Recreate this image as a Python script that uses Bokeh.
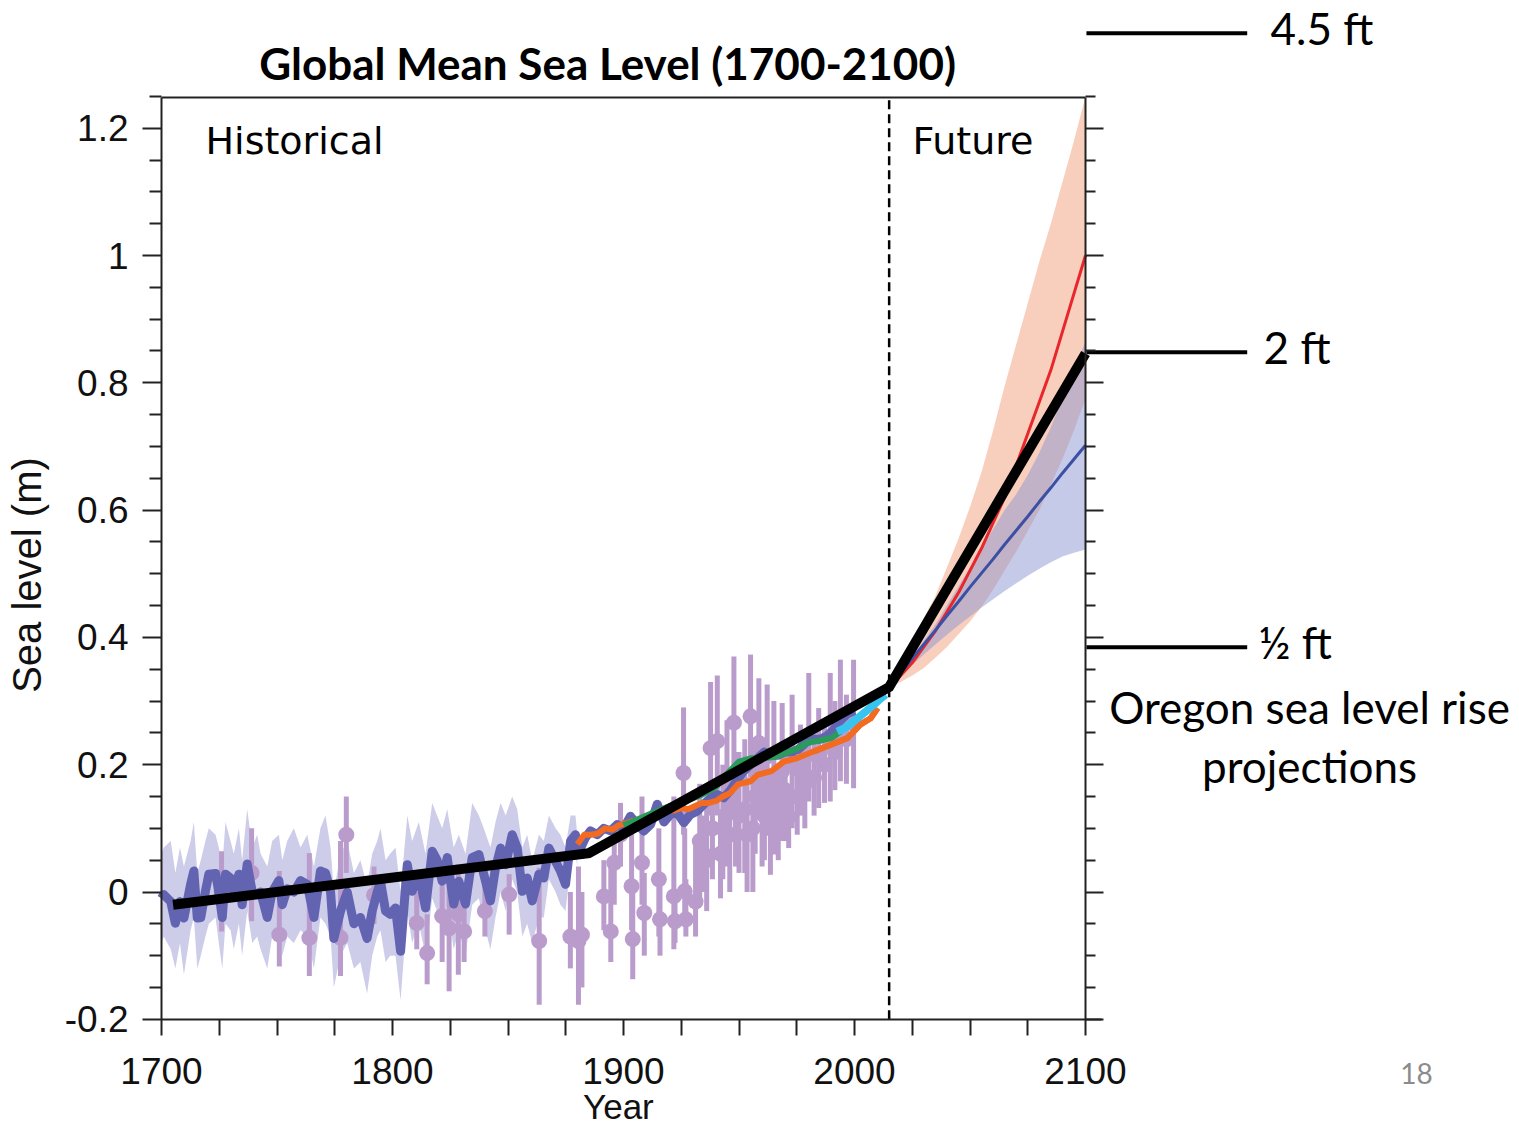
from bokeh.plotting import figure
from bokeh.models import Range1d, LinearAxis, FixedTicker
from bokeh.core.properties import value
from bokeh.embed import file_html
from bokeh.resources import INLINE

# ---------------- data ----------------
title_text = "Global Mean Sea Level (1700-2100)"

x_ticks = [1700, 1800, 1900, 2000, 2100]
x_tick_labels = ["1700", "1800", "1900", "2000", "2100"]
x_minor = [1725, 1750, 1775, 1825, 1850, 1875, 1925, 1950, 1975, 2025, 2050, 2075]
y_ticks = [-0.2, 0, 0.2, 0.4, 0.6, 0.8, 1, 1.2]
y_tick_labels = ["-0.2", "0", "0.2", "0.4", "0.6", "0.8", "1", "1.2"]
y_minor = [-0.15, -0.1, -0.05, 0.05, 0.1, 0.15, 0.25, 0.3, 0.35, 0.45, 0.5, 0.55,
           0.65, 0.7, 0.75, 0.85, 0.9, 0.95, 1.05, 1.1, 1.15, 1.25]

# historical reconstruction (dark blue-violet line)
blue_years = [1700, 1701, 1704, 1706, 1708, 1709.7, 1712.6, 1714, 1715.5, 1717,
              1719, 1720.5, 1723.4, 1724.8, 1726.3, 1727.7, 1729.9, 1731.3, 1733.5, 1734.9,
              1737.1, 1739.3, 1741.4, 1742.9, 1745.8, 1747.9, 1750.8, 1752.3, 1754.4, 1757.3,
              1760.2, 1763.1, 1766, 1768.8, 1771, 1773.2, 1774.6, 1777.5, 1780.4, 1783.3,
              1786.1, 1789, 1791.2, 1793.4, 1794.8, 1797, 1799, 1801.3, 1803.5, 1806.4,
              1808.5, 1811.4, 1814.3, 1817.2, 1819.3, 1821.5, 1823.7, 1826.5, 1828.7, 1831.6,
              1834.5, 1837.4, 1839.5, 1842.4, 1844.6, 1846.8, 1849, 1851.8, 1854, 1856.2,
              1858.3, 1860.5, 1863.4, 1865.5, 1867.7, 1870.6, 1872.7, 1874.9, 1877.1, 1879.2,
              1880,
              1881.4, 1883.5, 1885.7, 1888.6, 1891.5, 1894.4, 1897.3, 1900.1, 1903, 1905.9,
              1908.8, 1911.7, 1914.6, 1917.5, 1920.3, 1923.2, 1926.1, 1929, 1931.9, 1934.8,
              1937.7, 1940.6, 1943.4, 1946.3, 1949, 1952, 1955, 1958, 1961, 1964,
              1967, 1970, 1973, 1976, 1979, 1982, 1985, 1988, 1991, 1994,
              1997, 2000]
blue_vals = [-0.01, -0.004, -0.015, -0.049, -0.015, -0.041, 0.012, 0.033, -0.041, -0.04,
             0.001, 0.028, 0.029, 0.0, -0.04, 0.028, 0.022, -0.002, 0.028, -0.02,
             0.044, 0.0, -0.003, 0.0, -0.04, 0.0, 0.018, -0.02, 0.005, 0.0,
             0.018, 0.012, -0.04, 0.033, 0.03, 0.0, -0.073, -0.03, 0.0, -0.05,
             -0.04, -0.073, -0.03, 0.0, 0.017, -0.03, -0.035, -0.025, -0.093, 0.043,
             0.001, 0.028, -0.025, 0.064, 0.05, 0.017, 0.054, -0.019, 0.017, -0.019,
             0.054, 0.059, 0.028, -0.014, 0.038, 0.069, 0.043, 0.09, 0.069, 0.001,
             0.022, -0.014, 0.028, 0.022, 0.069, 0.048, 0.033, 0.012, 0.08, 0.09,
             0.062,
             0.069, 0.085, 0.096, 0.09, 0.1, 0.096, 0.106, 0.1, 0.119, 0.106,
             0.096, 0.106, 0.138, 0.11, 0.122, 0.125, 0.109, 0.122, 0.127, 0.138,
             0.148, 0.153, 0.148, 0.16, 0.175, 0.19, 0.2, 0.21, 0.22, 0.215,
             0.215, 0.22, 0.22, 0.225, 0.235, 0.24, 0.24, 0.245, 0.255, 0.27,
             0.28, 0.285]
# uncertainty band of the reconstruction (first 81 years above)
band_hi = [0.06, 0.07, 0.08, 0.03, 0.07, 0.04, 0.08, 0.11, 0.03, 0.05,
           0.08, 0.10, 0.09, 0.07, 0.04, 0.11, 0.08, 0.06, 0.10, 0.05,
           0.13, 0.07, 0.09, 0.06, 0.04, 0.08, 0.09, 0.05, 0.08, 0.10,
           0.07, 0.09, 0.04, 0.10, 0.12, 0.07, 0.00, 0.06, 0.08, 0.03,
           0.05, 0.01, 0.06, 0.08, 0.10, 0.05, 0.06, 0.07, 0.00, 0.12,
           0.08, 0.11, 0.06, 0.14, 0.12, 0.10, 0.13, 0.07, 0.09, 0.06,
           0.14, 0.12, 0.10, 0.07, 0.11, 0.14, 0.12, 0.15, 0.13, 0.07,
           0.09, 0.05, 0.09, 0.08, 0.12, 0.10, 0.09, 0.07, 0.12, 0.12,
           0.09]
band_lo = [-0.08, -0.07, -0.09, -0.12, -0.08, -0.13, -0.06, -0.04, -0.12, -0.10,
           -0.07, -0.05, -0.04, -0.08, -0.12, -0.05, -0.06, -0.09, -0.05, -0.10,
           -0.03, -0.08, -0.07, -0.09, -0.12, -0.07, -0.06, -0.10, -0.07, -0.08,
           -0.06, -0.07, -0.12, -0.04, -0.05, -0.07, -0.15, -0.10, -0.08, -0.12,
           -0.11, -0.16, -0.10, -0.07, -0.06, -0.11, -0.10, -0.10, -0.17, -0.03,
           -0.08, -0.05, -0.10, -0.01, -0.03, -0.06, -0.02, -0.09, -0.06, -0.10,
           -0.02, -0.01, -0.05, -0.09, -0.04, 0.00, -0.03, 0.02, 0.00, -0.07,
           -0.05, -0.08, -0.04, -0.04, 0.02, 0.00, -0.02, -0.03, 0.04, 0.06,
           0.04]

orange_years = [1880, 1883, 1886, 1889, 1892, 1895, 1898, 1901, 1904, 1907,
                1910, 1913, 1916, 1919, 1922, 1925, 1928, 1931, 1934, 1937,
                1940, 1943, 1946, 1949.5, 1955, 1958, 1964, 1969.5, 1975, 1982.5,
                1989.5, 1997, 2002.5, 2007, 2010]
orange_vals = [0.075, 0.09, 0.09, 0.092, 0.1, 0.098, 0.105, 0.108, 0.112, 0.108,
               0.11, 0.118, 0.125, 0.13, 0.128, 0.132, 0.13, 0.135, 0.14, 0.14,
               0.143, 0.15, 0.155, 0.169, 0.174, 0.184, 0.19, 0.205, 0.21, 0.221,
               0.231, 0.242, 0.263, 0.273, 0.289]

green_years = [1900, 1906, 1913, 1920, 1927, 1934, 1940, 1946, 1950, 1955,
               1960, 1965, 1970, 1975, 1980, 1985, 1990, 1994]
green_vals = [0.105, 0.114, 0.125, 0.135, 0.143, 0.153, 0.165, 0.19, 0.205, 0.21,
              0.21, 0.212, 0.218, 0.225, 0.235, 0.238, 0.242, 0.252]

cyan_years = [1992.5, 1996, 1999, 2002, 2005, 2008, 2011, 2013.5]
cyan_vals = [0.252, 0.258, 0.266, 0.275, 0.284, 0.293, 0.303, 0.31]

# proxy / tide gauge points with error bars
pts_year = [1726, 1739, 1751, 1764, 1777.5, 1780, 1792, 1810.5, 1815, 1821.5,
            1824.5, 1828.5, 1831, 1840, 1850.5, 1863.5, 1877, 1880.5, 1882, 1891.5,
            1894.5, 1896, 1898.7, 1903.5, 1904, 1908, 1909, 1915.3, 1915.8, 1921.8,
            1922.3, 1926, 1926.5, 1927, 1931.2, 1934.8, 1937.7, 1938.5, 1940.6, 1942,
            1944.8, 1946, 1947.8, 1950, 1952.5, 1955, 1956, 1958.6, 1960, 1962.2,
            1963.6, 1965.1, 1967, 1968.7, 1971.5, 1973, 1975.2, 1976.6, 1978.5, 1980.2,
            1982.5, 1984.5, 1987, 1989.5, 1991.5, 1993.9, 1996.5, 1999.6,
            1933, 1936, 1943, 1948.5, 1953.5, 1957, 1961, 1970]
pts_val = [0.0, 0.03, -0.067, -0.072, -0.072, 0.09, -0.005, -0.049, -0.096, -0.038,
           -0.057, -0.035, -0.062, -0.03, -0.004, -0.077, -0.07, -0.077, -0.067, -0.007,
           -0.062, 0.046, 0.09, 0.009, -0.074, 0.046, -0.033, 0.02, -0.043, -0.007,
           -0.046, 0.187, 0.001, -0.043, -0.015, 0.059, 0.226, 0.1, 0.237, 0.06,
           0.15, 0.09, 0.266, 0.12, 0.13, 0.276, 0.1, 0.234, 0.13, 0.213,
           0.1, 0.18, 0.12, 0.19, 0.118, 0.205, 0.15, 0.19, 0.17, 0.243,
           0.18, 0.21, 0.2, 0.243, 0.22, 0.27, 0.24, 0.264,
           0.08, 0.05, 0.1, 0.13, 0.09, 0.15, 0.12, 0.16]
pts_lo = [-0.062, -0.046, -0.117, -0.132, -0.132, 0.03, -0.05, -0.09, -0.145, -0.11,
          -0.156, -0.13, -0.11, -0.07, -0.067, -0.177, -0.12, -0.177, -0.15, -0.06,
          -0.11, -0.02, 0.04, -0.06, -0.137, -0.02, -0.1, -0.07, -0.1, -0.09,
          -0.08, 0.09, -0.05, -0.07, -0.07, 0.0, 0.12, 0.02, 0.12, -0.01,
          0.04, 0.0, 0.16, 0.03, 0.03, 0.18, 0.0, 0.132, 0.04, 0.1,
          0.027, 0.059, 0.05, 0.08, 0.069, 0.1, 0.09, 0.12, 0.1, 0.142,
          0.12, 0.132, 0.14, 0.142, 0.16, 0.174, 0.17, 0.163,
          -0.02, -0.03, 0.02, 0.04, 0.0, 0.06, 0.05, 0.08]
pts_hi = [0.064, 0.1, 0.033, 0.061, 0.08, 0.15, 0.04, 0.0, -0.035, 0.043,
          0.02, 0.043, 0.0, 0.03, 0.028, 0.038, 0.0, 0.04, 0.0, 0.05,
          0.053, 0.1, 0.14, 0.12, 0.0, 0.15, 0.03, 0.1, 0.02, 0.15,
          0.0, 0.29, 0.1, 0.02, 0.08, 0.12, 0.33, 0.17, 0.34, 0.13,
          0.27, 0.18, 0.37, 0.22, 0.24, 0.373, 0.2, 0.336, 0.22, 0.326,
          0.18, 0.3, 0.2, 0.297, 0.167, 0.31, 0.21, 0.263, 0.24, 0.344,
          0.25, 0.289, 0.27, 0.344, 0.3, 0.365, 0.31, 0.365,
          0.17, 0.14, 0.2, 0.22, 0.18, 0.24, 0.2, 0.24]

# future projections
fut_years = [2015, 2020, 2025, 2030, 2035, 2040, 2045, 2050, 2055,
             2060, 2065, 2070, 2075, 2080, 2085, 2090, 2095, 2100]
high_hi = [0.322, 0.355, 0.39, 0.43, 0.465, 0.51, 0.555, 0.605, 0.66,
           0.725, 0.795, 0.86, 0.925, 0.99, 1.05, 1.115, 1.18, 1.25]
high_lo = [0.322, 0.33, 0.34, 0.352, 0.368, 0.385, 0.405, 0.425, 0.448,
           0.475, 0.505, 0.535, 0.567, 0.6, 0.64, 0.68, 0.725, 0.775]
high_mid = [0.322, 0.34, 0.36, 0.385, 0.41, 0.44, 0.47, 0.505, 0.54,
            0.58, 0.62, 0.67, 0.72, 0.77, 0.82, 0.88, 0.94, 1.0]
low_hi = [0.322, 0.345, 0.37, 0.395, 0.42, 0.45, 0.48, 0.51, 0.54,
          0.57, 0.6, 0.625, 0.655, 0.69, 0.73, 0.775, 0.82, 0.865]
low_lo = [0.322, 0.34, 0.357, 0.373, 0.389, 0.404, 0.419, 0.433, 0.447,
          0.46, 0.473, 0.485, 0.497, 0.508, 0.518, 0.527, 0.533, 0.538]
low_mid = [0.322, 0.344, 0.367, 0.389, 0.411, 0.434, 0.456, 0.479, 0.501,
           0.523, 0.546, 0.568, 0.59, 0.613, 0.635, 0.658, 0.68, 0.702]

# black trend line
trend_years = [1705, 1885, 2015, 2100]
trend_vals = [-0.02, 0.061, 0.322, 0.846]

present_year = 2015

# Oregon projection markers
marker_vals = [1.349, 0.848, 0.3845]
marker_labels = ["4.5 ft", "2 ft", "\u00bd ft"]

# ---------------- figure ----------------
# pixel calibration of the page: x = 1700 at px 161, 2.31 px / yr ; y = 0 at py 891.5, 636.5 px / m
PX0, PXS = 161.0, 2.31
PY0, PYS = 891.5, 636.5
W, H = 1517, 1129
x_lo = 1700 + (0 - PX0) / PXS
x_hi = 1700 + (W - PX0) / PXS
y_hi = (PY0 - 0) / PYS
y_lo = (PY0 - H) / PYS
y_top = (PY0 - 97) / PYS

p = figure(width=W, height=H, x_range=Range1d(x_lo, x_hi), y_range=Range1d(y_lo, y_hi),
           x_axis_type=None, y_axis_type=None, output_backend="svg", toolbar_location=None,
           min_border=0, min_border_left=0, min_border_right=0, min_border_top=0, min_border_bottom=0)
p.outline_line_color = None
p.background_fill_color = "white"
p.border_fill_color = "white"

TICK_FONT = value("Liberation Sans")

def style_axis(ax):
    ax.axis_line_color = "#222222"
    ax.axis_line_width = 2
    ax.major_tick_line_color = "#222222"
    ax.minor_tick_line_color = "#222222"
    ax.major_tick_line_width = 2
    ax.minor_tick_line_width = 2
    ax.major_label_text_font = "Liberation Sans"
    ax.major_label_text_font_size = "37px"
    ax.major_label_text_color = "#111111"

yl = LinearAxis(fixed_location=1700, bounds=(-0.2, y_top),
                ticker=FixedTicker(ticks=y_ticks, minor_ticks=y_minor),
                major_label_overrides=dict(zip(y_ticks, y_tick_labels)))
style_axis(yl)
yl.major_tick_out = 19
yl.major_tick_in = 0
yl.minor_tick_out = 12
yl.minor_tick_in = 0
yl.major_label_standoff = 14
p.add_layout(yl, "left")

yr = LinearAxis(fixed_location=2100, bounds=(-0.2, y_top),
                ticker=FixedTicker(ticks=y_ticks, minor_ticks=y_minor))
style_axis(yr)
yr.major_tick_out = 18
yr.major_tick_in = 0
yr.minor_tick_out = 10
yr.minor_tick_in = 0
yr.major_label_text_font_size = "0px"
yr.major_label_text_color = None
p.add_layout(yr, "right")

xb = LinearAxis(fixed_location=-0.2, bounds=(1700, 2107),
                ticker=FixedTicker(ticks=x_ticks, minor_ticks=x_minor),
                major_label_overrides=dict(zip(x_ticks, x_tick_labels)))
style_axis(xb)
xb.major_tick_out = 16
xb.major_tick_in = 0
xb.minor_tick_out = 16
xb.minor_tick_in = 0
xb.major_label_standoff = 23
p.add_layout(xb, "below")

# top frame line
p.segment(x0=[1700], y0=[y_top], x1=[2100], y1=[y_top], line_color="#222222", line_width=2)

# future bands
p.varea(x=fut_years, y1=high_lo, y2=high_hi, fill_color="#f19f79", fill_alpha=0.5)
p.varea(x=fut_years, y1=low_lo, y2=low_hi, fill_color="#8b95d1", fill_alpha=0.5)
p.line(fut_years, high_mid, line_color="#e8262c", line_width=3)
p.line(fut_years, low_mid, line_color="#3b50a3", line_width=3)

# historical band
nb = len(band_hi)
p.varea(x=blue_years[:nb], y1=band_lo, y2=band_hi, fill_color="#cdcdea")

# proxy points
purple = "#b99ccb"
p.segment(x0=pts_year, y0=pts_lo, x1=pts_year, y1=pts_hi, line_color=purple, line_width=5)
p.scatter(pts_year, pts_val, size=16, fill_color=purple, line_color=None)

# reconstructions
p.line(blue_years, blue_vals, line_color="#6264b2", line_width=9, line_join="round")
p.line(orange_years, orange_vals, line_color="#f26b21", line_width=6, line_join="round")
p.line(green_years, green_vals, line_color="#2a9b5b", line_width=6, line_join="round")
p.line(orange_years[-6:], orange_vals[-6:], line_color="#f26b21", line_width=6, line_join="round")
p.line(cyan_years, cyan_vals, line_color="#37c4ef", line_width=8, line_join="round")

# present-day divider
p.segment(x0=[present_year], y0=[-0.2], x1=[present_year], y1=[y_top],
          line_color="black", line_width=2.5, line_dash="9 5")

# black trend line
p.line(trend_years, trend_vals, line_color="black", line_width=10, line_join="miter")

# Oregon markers
p.segment(x0=[2100.4] * 3, y0=marker_vals, x1=[2170] * 3, y1=marker_vals,
          line_color="black", line_width=4)
CAL = value("Lato")
p.text(x=[2180.1, 2177.1, 2174.9], y=[1.3582, 0.8555, 0.3920], text=marker_labels,
       text_font=CAL, text_font_size="44px", text_color="black",
       text_align="left", text_baseline="alphabetic")
p.text(x=[2197, 2197], y=[0.2899, 0.1987], text=["Oregon sea level rise", "projections"],
       text_font=CAL, text_font_size="44px", text_color="black",
       text_align="center", text_baseline="alphabetic")
p.text(x=[2243.3], y=[-0.2859], text=["18"], text_font=CAL, text_font_size="28px",
       text_color="#8c8c8c", text_align="center", text_baseline="alphabetic")

# title
p.text(x=[1893.1], y=[1.3032], text=[title_text], text_font=CAL, text_font_style="bold",
       text_font_size="44px", text_color="black", text_align="center", text_baseline="alphabetic")

# panel labels
p.text(x=[1719.05, 2025.1], y=[1.1800, 1.1800], text=["Historical", "Future"],
       text_font=value("DejaVu Sans"), text_font_size="38px", text_color="black",
       text_align="left", text_baseline="alphabetic")

# axis titles
p.text(x=[1641.8], y=[0.5067], text=["Sea  level (m)"], angle=1.5707963,
       text_font=TICK_FONT, text_font_size="40px", text_color="#111111",
       text_align="center", text_baseline="alphabetic")
p.text(x=[1897.8], y=[-0.3364], text=["Year"],
       text_font=TICK_FONT, text_font_size="35px", text_color="#111111",
       text_align="center", text_baseline="alphabetic")

open("out.html", "w").write(file_html(p, INLINE))
